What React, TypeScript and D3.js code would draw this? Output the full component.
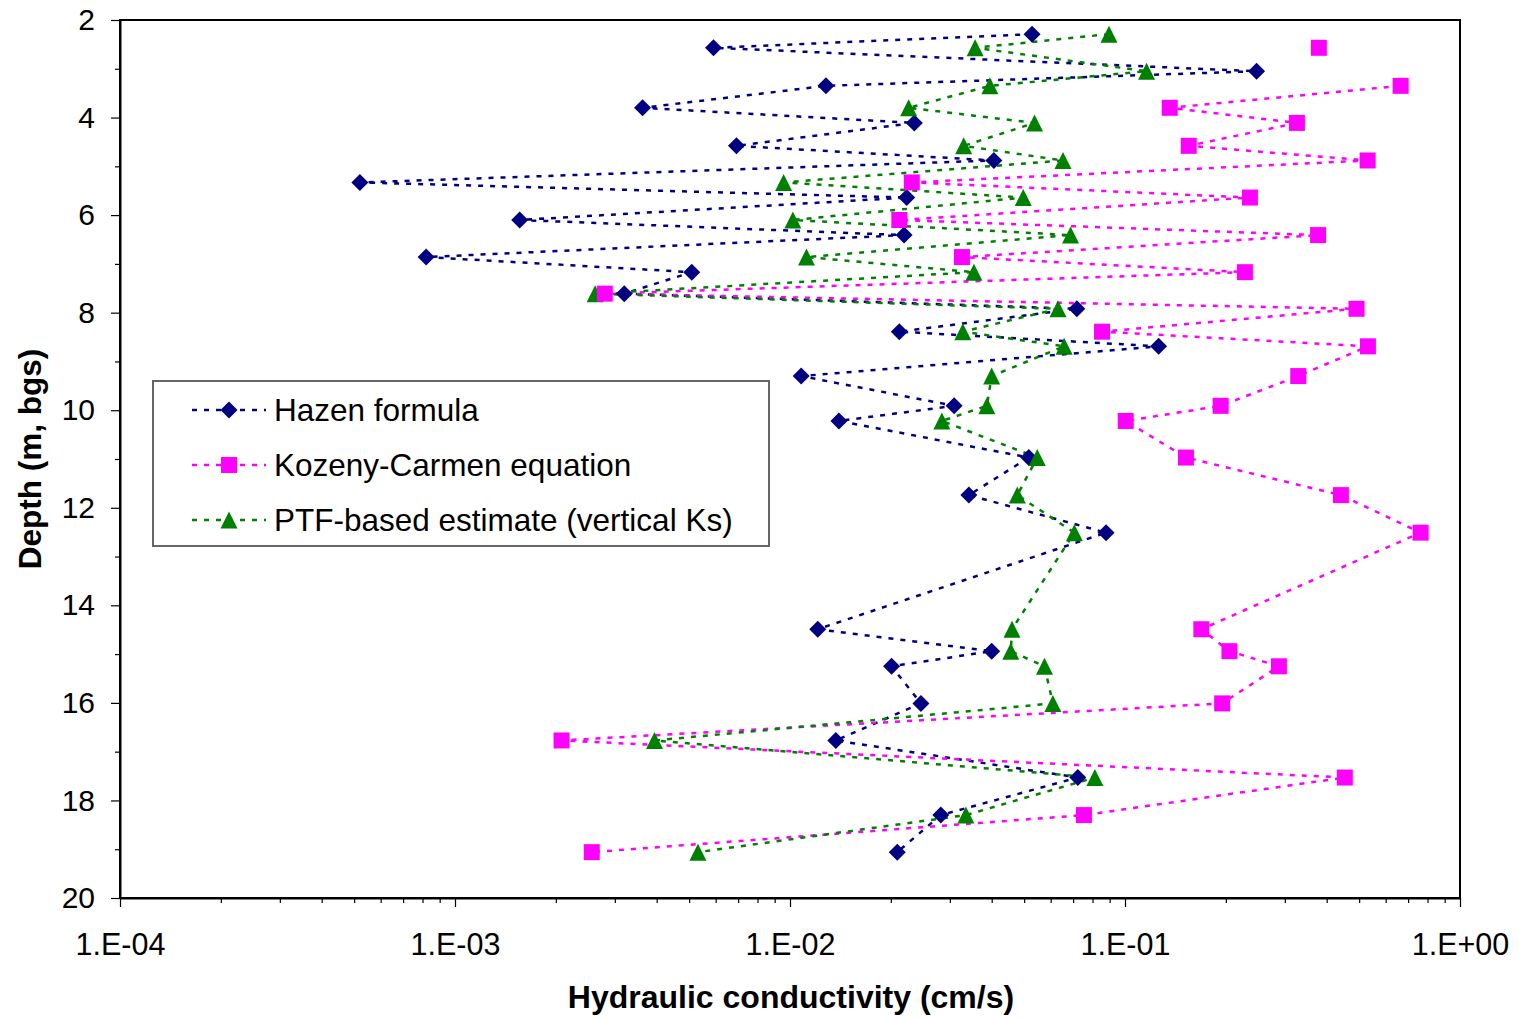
import React, { useEffect, useRef } from "react";
import * as d3 from "d3";

// ---- Data ----
const depths: number[] = [
  2.29, 2.57, 3.05, 3.35, 3.8, 4.11, 4.58, 4.88, 5.33, 5.64, 6.1, 6.41, 6.86, 7.17, 7.61, 7.92,
  8.39, 8.69, 9.3, 9.91, 10.22, 10.97, 11.74, 12.51, 14.49, 14.94, 15.25, 16.01, 16.77, 17.53, 18.3, 19.06,
];
const hazen: (number | null)[] = [
  0.0528, 0.00591, 0.247, 0.0128, 0.00363, 0.0235, 0.00692, 0.0406, 0.00052, 0.0223, 0.00156, 0.0219,
  0.00082, 0.00509, 0.0032, 0.0718, 0.0212, 0.126, 0.0108, 0.0309, 0.014, 0.0516, 0.0342, 0.0878,
  0.0121, 0.04, 0.0201, 0.0246, 0.0137, 0.0723, 0.0282, 0.0209,
];
const kozeny: (number | null)[] = [
  null, 0.379, null, 0.665, 0.136, 0.326, 0.155, 0.53, 0.0231, 0.236, 0.0212, 0.377, 0.0326, 0.228,
  0.0028, 0.491, 0.0854, 0.531, 0.329, 0.193, 0.1005, 0.152, 0.441, 0.763, 0.169, 0.205, 0.288, 0.195,
  0.00208, 0.453, 0.0754, 0.00256,
];
const ptf: (number | null)[] = [
  0.0896, 0.0357, 0.116, 0.0395, 0.0226, 0.0537, 0.033, 0.0653, 0.00957, 0.0497, 0.0102, 0.0688,
  0.0112, 0.0354, 0.00262, 0.0631, 0.0328, 0.0658, 0.04, 0.0387, 0.0284, 0.0547, 0.0477, 0.0706,
  0.046, 0.0456, 0.0575, 0.0609, 0.00394, 0.0813, 0.0335, 0.00531,
];
const seriesNames = ["Hazen formula", "Kozeny-Carmen equation", "PTF-based estimate (vertical Ks)"];
const xTickValues = [1e-4, 1e-3, 1e-2, 1e-1, 1];
const xTickLabels = ["1.E-04", "1.E-03", "1.E-02", "1.E-01", "1.E+00"];
const yTickValues = [2, 4, 6, 8, 10, 12, 14, 16, 18, 20];
const xTitle = "Hydraulic conductivity (cm/s)";
const yTitle = "Depth (m, bgs)";

const FONT = "'Liberation Sans', Arial, sans-serif";

const diamondType = {
  draw(ctx: any, size: number) {
    const r = Math.sqrt(size) / 2;
    ctx.moveTo(0, -r);
    ctx.lineTo(r, 0);
    ctx.lineTo(0, r);
    ctx.lineTo(-r, 0);
    ctx.closePath();
  },
};
const squareType = {
  draw(ctx: any, size: number) {
    const r = Math.sqrt(size) / 2;
    ctx.rect(-r, -r, 2 * r, 2 * r);
  },
};
const triangleType = {
  draw(ctx: any, size: number) {
    const r = Math.sqrt(size) / 2;
    ctx.moveTo(0, -r);
    ctx.lineTo(r, r);
    ctx.lineTo(-r, r);
    ctx.closePath();
  },
};

export default function App() {
  const ref = useRef<SVGSVGElement | null>(null);

  useEffect(() => {
    const svg = d3.select(ref.current);
    svg.selectAll("*").remove();

    const left = 120, right = 1460, top = 20, bottom = 898;
    const x = d3.scaleLog().domain([1e-4, 1]).range([left, right]);
    const y = d3.scaleLinear().domain([2, 20]).range([top, bottom]);

    const series = [
      { name: seriesNames[0], values: hazen, color: "#000080", type: diamondType, size: 17 * 17 },
      { name: seriesNames[1], values: kozeny, color: "#FF00FF", type: squareType, size: 16 * 16 },
      { name: seriesNames[2], values: ptf, color: "#008000", type: triangleType, size: 17 * 17 },
    ];

    svg.append("rect").attr("x", 0).attr("y", 0).attr("width", 1520).attr("height", 1019).attr("fill", "#fff");

    // Plot area border
    svg.append("rect")
      .attr("x", left).attr("y", top)
      .attr("width", right - left).attr("height", bottom - top)
      .attr("fill", "none").attr("stroke", "#000").attr("stroke-width", 2);

    // X axis minor ticks
    const minor: number[] = [];
    for (let e = -4; e < 0; e++) for (let m = 2; m <= 9; m++) minor.push(m * Math.pow(10, e));
    svg.append("g")
      .attr("transform", `translate(0,${bottom})`)
      .call(d3.axisBottom(x).tickValues(minor).tickSize(5).tickSizeOuter(0).tickFormat(() => ""))
      .call((g) => g.select(".domain").remove())
      .call((g) => g.selectAll("line").attr("stroke", "#000").attr("stroke-width", 1.2));

    // X axis major ticks
    const gx = svg.append("g")
      .attr("transform", `translate(0,${bottom})`)
      .call(
        d3.axisBottom(x).tickValues(xTickValues).tickSize(9).tickSizeOuter(0).tickPadding(26)
          .tickFormat((d, i) => xTickLabels[i])
      );
    gx.select(".domain").attr("stroke", "#000").attr("stroke-width", 2);
    gx.selectAll("line").attr("stroke", "#000").attr("stroke-width", 1.2);
    gx.selectAll("text").attr("font-size", 30.5).attr("font-family", FONT).attr("fill", "#000");

    // Y axis minor ticks
    const yMinor = d3.range(3, 20, 2);
    svg.append("g")
      .attr("transform", `translate(${left},0)`)
      .call(d3.axisLeft(y).tickValues(yMinor).tickSize(5).tickSizeOuter(0).tickFormat(() => ""))
      .call((g) => g.select(".domain").remove())
      .call((g) => g.selectAll("line").attr("stroke", "#000").attr("stroke-width", 1.2));

    const gy = svg.append("g")
      .attr("transform", `translate(${left},0)`)
      .call(d3.axisLeft(y).tickValues(yTickValues).tickSize(9).tickSizeOuter(0).tickPadding(16)
        .tickFormat((d) => String(d)));
    gy.select(".domain").attr("stroke", "#000").attr("stroke-width", 2);
    gy.selectAll("line").attr("stroke", "#000").attr("stroke-width", 1.2);
    gy.selectAll("text").attr("font-size", 30).attr("font-family", FONT).attr("fill", "#000");

    // Axis titles
    svg.append("text")
      .attr("x", 791).attr("y", 1008)
      .attr("text-anchor", "middle")
      .attr("font-family", FONT).attr("font-weight", "bold").attr("font-size", 32)
      .text(xTitle);
    svg.append("text")
      .attr("transform", `translate(41,${(top + bottom) / 2}) rotate(-90)`)
      .attr("text-anchor", "middle")
      .attr("font-family", FONT).attr("font-weight", "bold").attr("font-size", 31.5)
      .text(yTitle);

    // Lines
    const plot = svg.append("g");
    series.forEach((s) => {
      const line = d3.line<number>()
        .defined((d, i) => s.values[i] != null)
        .x((d, i) => x(s.values[i] as number))
        .y((d) => y(d));
      plot.append("path")
        .attr("d", line(depths))
        .attr("fill", "none")
        .attr("stroke", s.color)
        .attr("stroke-width", 2.5)
        .attr("stroke-dasharray", "5,7");
    });

    // Markers (drawn Hazen, PTF, Kozeny)
    [series[0], series[2], series[1]].forEach((s) => {
      const sym = d3.symbol().type(s.type as any).size(s.size);
      plot.append("g").selectAll("path")
        .data(depths.map((d, i) => ({ d, v: s.values[i] })).filter((p) => p.v != null))
        .join("path")
        .attr("transform", (p) => `translate(${x(p.v as number)},${y(p.d)})`)
        .attr("d", sym() as string)
        .attr("fill", s.color);
    });

    // Legend
    const lg = svg.append("g");
    lg.append("rect")
      .attr("x", 153).attr("y", 381).attr("width", 616).attr("height", 165)
      .attr("fill", "#fff").attr("stroke", "#666").attr("stroke-width", 2);
    series.forEach((s, i) => {
      const cy = 410 + i * 55;
      lg.append("line")
        .attr("x1", 192).attr("x2", 266).attr("y1", cy).attr("y2", cy)
        .attr("stroke", s.color).attr("stroke-width", 2.5).attr("stroke-dasharray", "5,7");
      lg.append("path")
        .attr("transform", `translate(229,${cy})`)
        .attr("d", d3.symbol().type(s.type as any).size(s.size)() as string)
        .attr("fill", s.color);
      lg.append("text")
        .attr("x", 274).attr("y", cy)
        .attr("dominant-baseline", "central")
        .attr("font-family", FONT).attr("font-size", 31.5)
        .text(s.name);
    });
  }, []);

  return (
    <svg
      ref={ref}
      width={1520}
      height={1019}
      style={{ position: "absolute", left: 0, top: 0, display: "block" }}
    />
  );
}
